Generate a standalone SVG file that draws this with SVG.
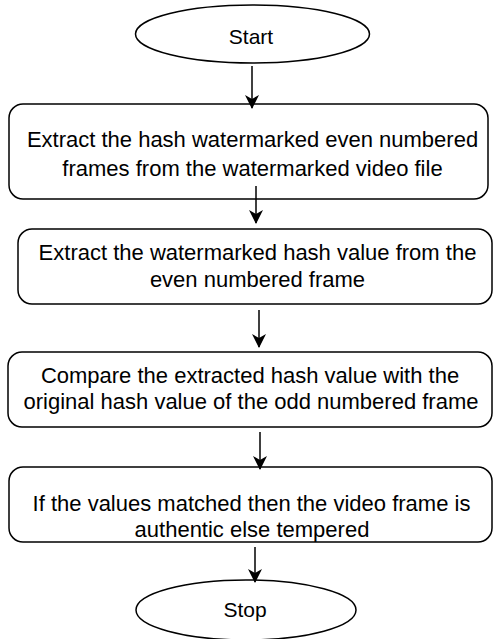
<svg xmlns="http://www.w3.org/2000/svg" width="493" height="639" viewBox="0 0 493 639">
  <defs>
    <marker id="arrow" viewBox="0 0 14 14" refX="13" refY="7" markerWidth="14" markerHeight="14" markerUnits="userSpaceOnUse" orient="auto">
      <path d="M0,0 L14,7 L0,14 L4,7 Z" fill="#000"/>
    </marker>
    <style>
      .shape { fill: #fff; stroke: #000; stroke-width: 1.5; }
      .label { font-family: "Liberation Sans", Arial, sans-serif; font-size: 22px; fill: #000; text-anchor: middle; }
      .term { font-size: 21px; }
      .edge { stroke: #000; stroke-width: 1.5; fill: none; marker-end: url(#arrow); }
    </style>
  </defs>
  <rect width="493" height="639" fill="#fff"/>

  <g id="start">
    <ellipse class="shape" cx="252.5" cy="34" rx="117" ry="29"/>
    <text class="label term" x="251" y="44">Start</text>
  </g>

  <g id="extract-frames">
    <rect class="shape" x="9" y="104" width="479" height="95" rx="14"/>
    <text class="label" x="252.5" y="147">Extract the hash watermarked even numbered</text>
    <text class="label" x="252.5" y="176">frames from the watermarked video file</text>
  </g>

  <g id="extract-hash">
    <rect class="shape" x="18" y="229" width="474" height="75" rx="14"/>
    <text class="label" x="257.5" y="260">Extract the watermarked hash value from the</text>
    <text class="label" x="257.5" y="287">even numbered frame</text>
  </g>

  <g id="compare">
    <rect class="shape" x="8" y="352" width="484" height="75" rx="14"/>
    <text class="label" x="250" y="383">Compare the extracted hash value with the</text>
    <text class="label" x="251" y="409">original hash value of the odd numbered frame</text>
  </g>

  <g id="decide">
    <rect class="shape" x="9" y="467" width="483" height="75" rx="14"/>
    <text class="label" x="251.5" y="511">If the values matched then the video frame is</text>
    <text class="label" x="252" y="537">authentic else tempered</text>
  </g>

  <g id="stop">
    <ellipse class="shape" cx="246" cy="610" rx="110" ry="30"/>
    <text class="label term" x="245" y="617">Stop</text>
  </g>

  <g id="connectors">
    <line class="edge" x1="252" y1="66" x2="252" y2="108"/>
    <line class="edge" x1="256" y1="186" x2="256" y2="223"/>
    <line class="edge" x1="259" y1="310" x2="259" y2="347"/>
    <line class="edge" x1="260" y1="432" x2="260" y2="469"/>
    <line class="edge" x1="255" y1="547" x2="255" y2="582"/>
  </g>
</svg>
